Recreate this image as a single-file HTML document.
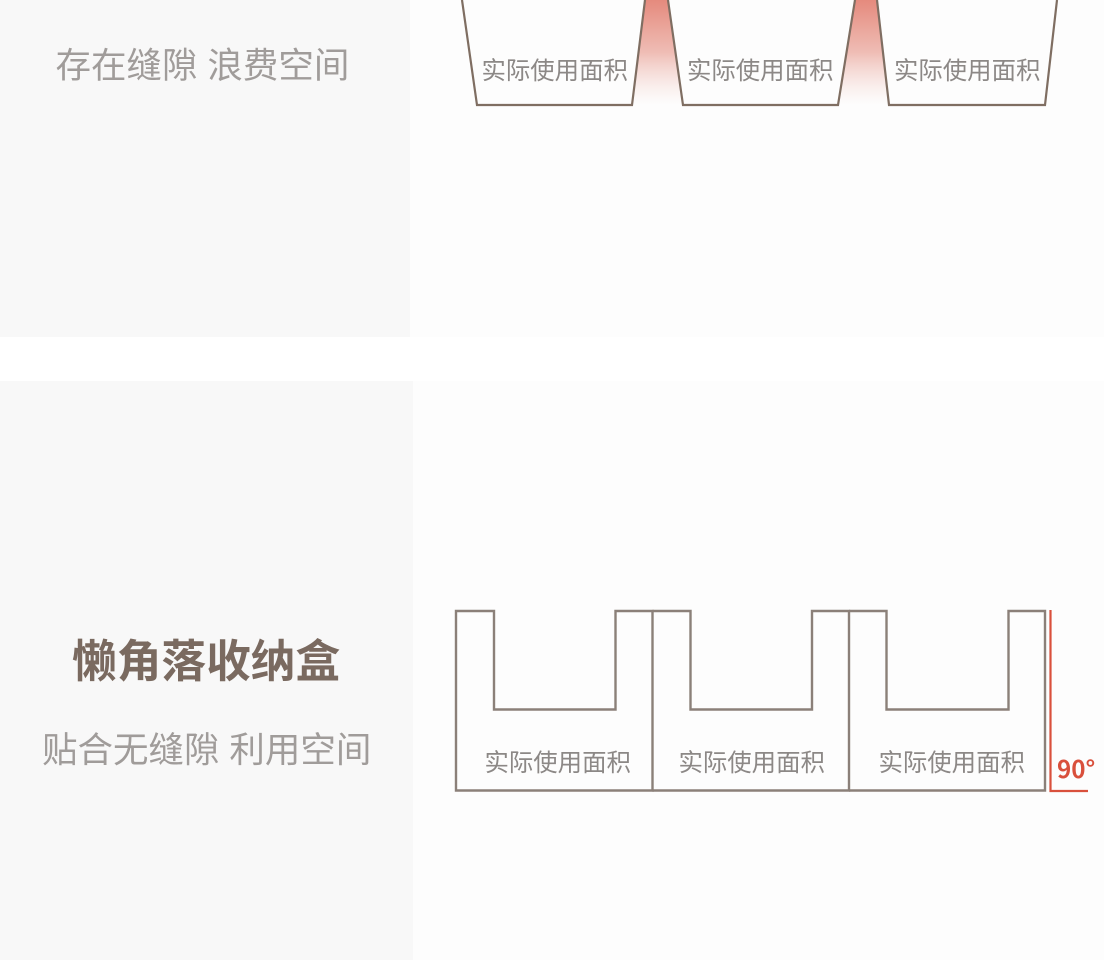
<!DOCTYPE html>
<html lang="zh">
<head>
<meta charset="utf-8">
<style>
html,body{margin:0;padding:0;background:#fff;width:1104px;height:960px;overflow:hidden}
svg{display:block}
text{font-family:"Liberation Sans","Noto Sans CJK SC",sans-serif}
.a{font-size:24.4px;fill:#8c8886}
.s{font-size:35.5px;fill:#a09c9a}
</style>
</head>
<body>
<svg width="1104" height="960" viewBox="0 0 1104 960" xmlns="http://www.w3.org/2000/svg">
<defs>
<linearGradient id="g" x1="0" y1="0" x2="0" y2="1">
<stop offset="0" stop-color="#e58a7d"/>
<stop offset="0.5" stop-color="#efbdb5"/>
<stop offset="1" stop-color="#f5dcd8" stop-opacity="0"/>
</linearGradient>
</defs>
<rect width="1104" height="960" fill="#fff"/>
<rect x="0" y="0" width="410" height="337" fill="#f8f8f8"/>
<rect x="410" y="0" width="694" height="337" fill="#fdfdfd"/>
<rect x="0" y="381" width="413" height="579" fill="#f8f8f8"/>
<rect x="413" y="381" width="691" height="579" fill="#fdfdfd"/>

<text class="s" x="55.500" y="77.500">存在缝隙 浪费空间</text>

<polygon points="645,0 668,0 683,105 632,105" fill="url(#g)"/>
<polygon points="855,0 877,0 889,105 838,105" fill="url(#g)"/>
<g fill="none" stroke="#7f6e62" stroke-width="2.200">
<polyline points="462,0 477,105 632,105 645,0"/>
<polyline points="668,0 683,105 838,105 855,0"/>
<polyline points="877,0 889,105 1045,105 1057,0"/>
</g>
<text class="a" x="481.500" y="79">实际使用面积</text>
<text class="a" x="687" y="79">实际使用面积</text>
<text class="a" x="894" y="79">实际使用面积</text>

<text x="72" y="677" font-size="44.700" font-weight="700" fill="#7a6a60">懒角落收纳盒</text>
<text class="s" x="42" y="762">贴合无缝隙 利用空间</text>

<g fill="none" stroke="#8b8079" stroke-width="2.400">
<polygon points="456,611 494,611 494,709.500 615.500,709.500 615.500,611 652.500,611 652.500,790.500 456,790.500"/>
<polyline points="652.500,611 690.500,611 690.500,709.500 812,709.500 812,611 849,611 849,790.500 652.500,790.500"/>
<polyline points="849,611 886.500,611 886.500,709.500 1008.500,709.500 1008.500,611 1045,611 1045,790.500 849,790.500"/>
</g>
<text class="a" x="484.500" y="771">实际使用面积</text>
<text class="a" x="678.500" y="771">实际使用面积</text>
<text class="a" x="878.500" y="771">实际使用面积</text>

<polyline points="1050.500,610 1050.500,791 1088,791" fill="none" stroke="#d9503c" stroke-width="2.200"/>
<text x="1057" y="778" font-size="24.200" font-weight="700" fill="#d9503c" style="font-family:'Noto Sans CJK SC','Liberation Sans',sans-serif">90°</text>
</svg>
</body>
</html>
